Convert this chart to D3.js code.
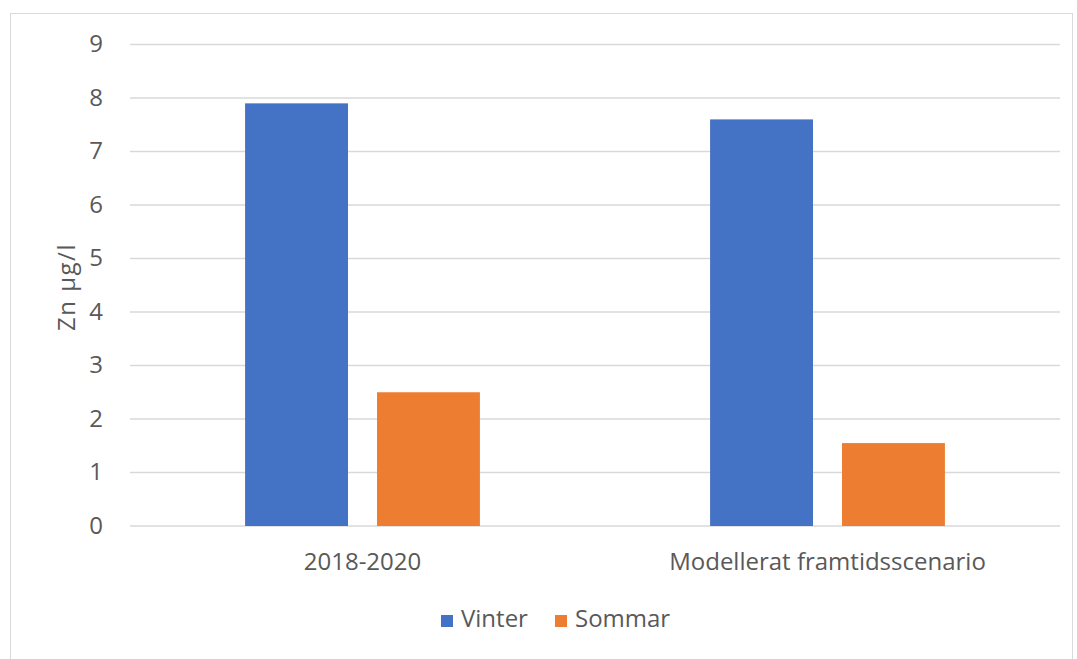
<!DOCTYPE html>
<html>
<head>
<meta charset="utf-8">
<script src="https://cdn.jsdelivr.net/npm/d3@7"></script>
<style>
  body { margin: 0; background: #fff; }
  text { font-family: "Open Sans", sans-serif; fill: #595959; }
</style>
</head>
<body>
<div id="chart"></div>
<script>
var categories = ["2018-2020", "Modellerat framtidsscenario"];
var seriesNames = ["Vinter", "Sommar"];
var vinter = [7.9, 7.6];
var sommar = [2.5, 1.55];
var yTicks = [0, 1, 2, 3, 4, 5, 6, 7, 8, 9];
var colors = ["#4472C4", "#ED7D31"];

var rows = categories.map(function(c, i) {
  return { cat: c, values: [vinter[i], sommar[i]] };
});

var W = 1077, H = 659;
var margin = { top: 44.5, left: 130, right: 17, bottom: 133 };

var svg = d3.select("#chart").append("svg")
  .attr("width", W)
  .attr("height", H);

// chart area border
svg.append("rect")
  .attr("x", 10.5).attr("y", 13.5)
  .attr("width", 1062).attr("height", 700)
  .attr("fill", "none")
  .attr("stroke", "#d9d9d9");

var x0 = d3.scaleBand()
  .domain(categories)
  .range([margin.left, W - margin.right])
  .paddingInner(0.495)
  .paddingOuter(0.2475);

var x1 = d3.scaleBand()
  .domain(seriesNames)
  .range([0, x0.bandwidth()])
  .paddingInner(0.22);

var y = d3.scaleLinear()
  .domain([0, 9])
  .range([H - margin.bottom, margin.top]);

// gridlines
svg.append("g")
  .selectAll("line")
  .data(yTicks)
  .enter()
  .append("line")
  .attr("x1", margin.left)
  .attr("x2", W - margin.right)
  .attr("y1", d => y(d))
  .attr("y2", d => y(d))
  .attr("stroke", "#d9d9d9")
  .attr("stroke-width", 1.3);

// y tick labels
svg.append("g")
  .selectAll("text")
  .data(yTicks)
  .enter()
  .append("text")
  .attr("x", 103)
  .attr("y", d => y(d))
  .attr("dy", "0.33em")
  .attr("text-anchor", "end")
  .style("font-size", "24px")
  .text(d => d);

// bars
var groups = svg.append("g")
  .selectAll("g")
  .data(rows)
  .enter()
  .append("g")
  .attr("transform", d => "translate(" + x0(d.cat) + ",0)");

groups.selectAll("rect")
  .data(d => d.values.map((v, i) => ({ key: seriesNames[i], value: v, i: i })))
  .enter()
  .append("rect")
  .attr("x", d => x1(d.key))
  .attr("width", x1.bandwidth())
  .attr("y", d => y(d.value))
  .attr("height", d => y(0) - y(d.value))
  .attr("fill", d => colors[d.i]);

// category labels
svg.append("g")
  .selectAll("text")
  .data(categories)
  .enter()
  .append("text")
  .attr("x", d => x0(d) + x0.bandwidth() / 2)
  .attr("y", 570)
  .attr("text-anchor", "middle")
  .style("font-size", "24px")
  .text(d => d);

// y axis title
svg.append("text")
  .attr("transform", "translate(75,287) rotate(-90)")
  .attr("text-anchor", "middle")
  .style("font-size", "24px")
  .style("letter-spacing", "1.5px")
  .text("Zn µg/l");

// legend
var legendX = [441, 555];
var legend = svg.append("g")
  .selectAll("g")
  .data(seriesNames)
  .enter()
  .append("g")
  .attr("transform", (d, i) => "translate(" + legendX[i] + ",615)");

legend.append("rect")
  .attr("width", 12)
  .attr("height", 12)
  .attr("fill", (d, i) => colors[i]);

legend.append("text")
  .attr("x", 20)
  .attr("y", 12)
  .style("font-size", "24px")
  .text(d => d);
</script>
</body>
</html>
